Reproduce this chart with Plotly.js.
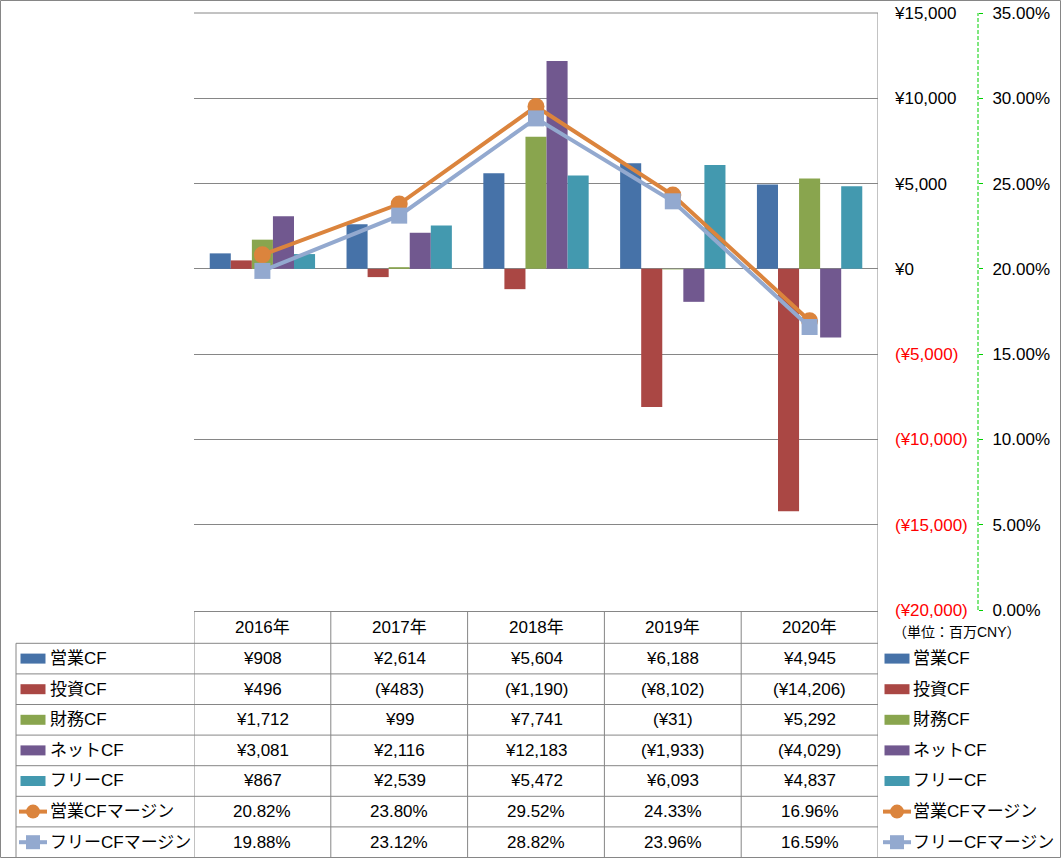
<!DOCTYPE html>
<html>
<head>
<meta charset="utf-8">
<script src="https://cdn.plot.ly/plotly-3.0.1.min.js"></script>
<style>
html,body{margin:0;padding:0;background:#fff;}
#chart{width:1061px;height:858px;}
</style>
</head>
<body>
<div id="chart"></div>
<script>
// ---- data ----
const categories = ['2016年', '2017年', '2018年', '2019年', '2020年'];
const opCF = [908, 2614, 5604, 6188, 4945];
const invCF = [496, -483, -1190, -8102, -14206];
const finCF = [1712, 99, 7741, -31, 5292];
const netCF = [3081, 2116, 12183, -1933, -4029];
const freeCF = [867, 2539, 5472, 6093, 4837];
const opMargin = [20.82, 23.80, 29.52, 24.33, 16.96];
const freeMargin = [19.88, 23.12, 28.82, 23.96, 16.59];
const yTickVals = [-20000, -15000, -10000, -5000, 0, 5000, 10000, 15000];
const y2TickVals = [0, 5, 10, 15, 20, 25, 30, 35];
const unitLabel = '（単位：百万CNY）';

// ---- geometry (pixels) ----
const W = 1061, H = 858;
const L = 194, R = 978, T = 13, B = 610;
const AX1 = 878;
const px2x = p => (p - L) / (R - L);
const py2y = p => (B - p) / (B - T);
const xDomEnd = px2x(AX1);

const FONT = 'Liberation Sans, Noto Sans CJK JP, sans-serif';
const GRID = '#868686';

function withCommas(n) { return String(n).replace(/\B(?=(\d{3})+(?!\d))/g, ','); }
function yen(v) { const s = '¥' + withCommas(Math.abs(v)); return v < 0 ? '(' + s + ')' : s; }
function pct(v) { return v.toFixed(2) + '%'; }

const series = [
  {name: '営業CF', vals: opCF, color: '#4672A8', kind: 'bar', fmt: yen},
  {name: '投資CF', vals: invCF, color: '#AA4744', kind: 'bar', fmt: yen},
  {name: '財務CF', vals: finCF, color: '#89A54E', kind: 'bar', fmt: yen},
  {name: 'ネットCF', vals: netCF, color: '#71588F', kind: 'bar', fmt: yen},
  {name: 'フリーCF', vals: freeCF, color: '#4399AF', kind: 'bar', fmt: yen},
  {name: '営業CFマージン', vals: opMargin, color: '#DB843D', kind: 'line', symbol: 'circle', fmt: pct},
  {name: 'フリーCFマージン', vals: freeMargin, color: '#93A9CF', kind: 'line', symbol: 'square', fmt: pct}
];

const traces = series.map(s => {
  if (s.kind === 'bar') {
    return {type: 'bar', name: s.name, x: categories, y: s.vals, marker: {color: s.color, line: {width: 0}},
            xaxis: 'x', yaxis: 'y', hoverinfo: 'skip'};
  }
  return {type: 'scatter', mode: 'lines+markers', name: s.name, x: categories, y: s.vals,
          line: {color: s.color, width: 4},
          marker: {color: s.color, size: s.symbol === 'circle' ? 17 : 16, symbol: s.symbol, line: {width: 0}},
          xaxis: 'x', yaxis: 'y2', hoverinfo: 'skip', cliponaxis: false};
});

// tick texts
const yTickText = yTickVals.map(v => v < 0 ? '<span style="color:#FF0000">' + yen(v) + '</span>' : yen(v));
const y2TickText = y2TickVals.map(pct);

// ---- table ----
const headerTop = 611.5;
const rowTop0 = 643.3;
const rowH = 30.6;
const tableBottom = rowTop0 + rowH * series.length;

const shapes = [];
const annotations = [];

// top gridline (15,000) which plotly skips at the range edge
shapes.push({type: 'line', xref: 'paper', yref: 'paper', x0: 0, x1: xDomEnd, y0: 1, y1: 1,
             line: {color: GRID, width: 1}});
// horizontal lines
shapes.push({type: 'line', xref: 'x', yref: 'paper', x0: -0.5, x1: 4.5, y0: py2y(headerTop), y1: py2y(headerTop),
             line: {color: GRID, width: 1}});
for (let k = 0; k <= series.length; k++) {
  const yy = py2y(rowTop0 + rowH * k);
  shapes.push({type: 'line', xref: 'paper', yref: 'paper', x0: px2x(16), x1: xDomEnd, y0: yy, y1: yy,
               line: {color: GRID, width: 1}});
}
// vertical lines
shapes.push({type: 'line', xref: 'paper', yref: 'paper', x0: px2x(16), x1: px2x(16), y0: py2y(rowTop0), y1: py2y(tableBottom),
             line: {color: GRID, width: 1}});
for (let i = 0; i < categories.length; i++) {
  shapes.push({type: 'line', xref: 'x', yref: 'paper', x0: i - 0.5, x1: i - 0.5, y0: py2y(headerTop), y1: py2y(tableBottom),
               line: {color: GRID, width: 1}});
}
// right axis line continuing through table
shapes.push({type: 'line', xref: 'x', yref: 'paper', x0: categories.length - 0.5, x1: categories.length - 0.5,
             y0: 1, y1: py2y(tableBottom), line: {color: GRID, width: 1}});
// secondary axis dashed green line
shapes.push({type: 'line', xref: 'paper', yref: 'paper', x0: 1, x1: 1, y0: 0, y1: 1,
             line: {color: '#00D000', width: 1, dash: '4px,2px'}});
// outer border
shapes.push({type: 'rect', xref: 'paper', yref: 'paper', x0: px2x(0.5), x1: px2x(W - 0.5), y0: py2y(0.5), y1: py2y(H - 0.5),
             line: {color: GRID, width: 1}, fillcolor: 'rgba(0,0,0,0)'});

// header text
categories.forEach(c => {
  annotations.push({xref: 'x', yref: 'paper', x: c, y: py2y((headerTop + rowTop0) / 2), text: c, showarrow: false,
                    xanchor: 'center', yanchor: 'middle', font: {family: FONT, size: 17, color: '#000'}});
});

function legendSymbol(s, cx, cy) {
  if (s.kind === 'bar') {
    shapes.push({type: 'rect', xref: 'paper', yref: 'paper', x0: px2x(cx - 12.5), x1: px2x(cx + 12.5),
                 y0: py2y(cy + 5), y1: py2y(cy - 5), line: {width: 0}, fillcolor: s.color});
  } else {
    shapes.push({type: 'line', xref: 'paper', yref: 'paper', x0: px2x(cx - 14), x1: px2x(cx + 14),
                 y0: py2y(cy), y1: py2y(cy), line: {color: s.color, width: 4}});
    const r = 7;
    shapes.push({type: s.symbol === 'circle' ? 'circle' : 'rect', xref: 'paper', yref: 'paper',
                 x0: px2x(cx - r), x1: px2x(cx + r), y0: py2y(cy + r), y1: py2y(cy - r),
                 line: {width: 0}, fillcolor: s.color});
  }
}

series.forEach((s, r) => {
  const cyPx = rowTop0 + rowH * r + rowH / 2;
  const cy = py2y(cyPx);
  // left label column
  legendSymbol(s, 33, cyPx);
  annotations.push({xref: 'paper', yref: 'paper', x: px2x(48), y: cy, text: s.name, showarrow: false,
                    xanchor: 'left', yanchor: 'middle', font: {family: FONT, size: 17, color: '#000'}});
  // values
  s.vals.forEach((v, i) => {
    annotations.push({xref: 'x', yref: 'paper', x: categories[i], y: cy, text: s.fmt(v), showarrow: false,
                      xanchor: 'center', yanchor: 'middle', font: {family: FONT, size: 17, color: '#000'}});
  });
  // right legend
  legendSymbol(s, 897, cyPx);
  annotations.push({xref: 'paper', yref: 'paper', x: px2x(911), y: cy, text: s.name, showarrow: false,
                    xanchor: 'left', yanchor: 'middle', font: {family: FONT, size: 17, color: '#000'}});
});

annotations.push({xref: 'paper', yref: 'paper', x: px2x(891), y: py2y(632), text: unitLabel, showarrow: false,
                  xanchor: 'left', yanchor: 'middle', font: {family: FONT, size: 14, color: '#000'}});

const layout = {
  width: W, height: H,
  margin: {l: L, r: W - R, t: T, b: H - B, pad: 0},
  paper_bgcolor: '#fff', plot_bgcolor: '#fff',
  showlegend: false,
  barmode: 'group', bargap: 0.23, bargroupgap: 0,
  font: {family: FONT, size: 17, color: '#000'},
  xaxis: {type: 'category', domain: [0, xDomEnd], range: [-0.5, 4.5], showticklabels: false, showgrid: false,
          showline: false, zeroline: false, ticks: '', fixedrange: true},
  yaxis: {side: 'right', anchor: 'x', range: [-20000, 15000], tickvals: yTickVals, ticktext: yTickText,
          showgrid: true, gridcolor: GRID, gridwidth: 1, zeroline: false, showline: false, ticks: '',
          ticklabelstandoff: 16, tickfont: {family: FONT, size: 17, color: '#000'}, fixedrange: true},
  yaxis2: {overlaying: 'y', side: 'right', anchor: 'free', position: 1, range: [0, 35], tickvals: y2TickVals,
           ticktext: y2TickText, showgrid: false, zeroline: false, showline: false,
           ticks: 'outside', ticklen: 4, tickcolor: '#00D000', tickwidth: 1, ticklabelstandoff: 6,
           tickfont: {family: FONT, size: 17, color: '#000'}, fixedrange: true},
  shapes: shapes,
  annotations: annotations
};

Plotly.newPlot('chart', traces, layout, {displayModeBar: false, staticPlot: true});
</script>
</body>
</html>
